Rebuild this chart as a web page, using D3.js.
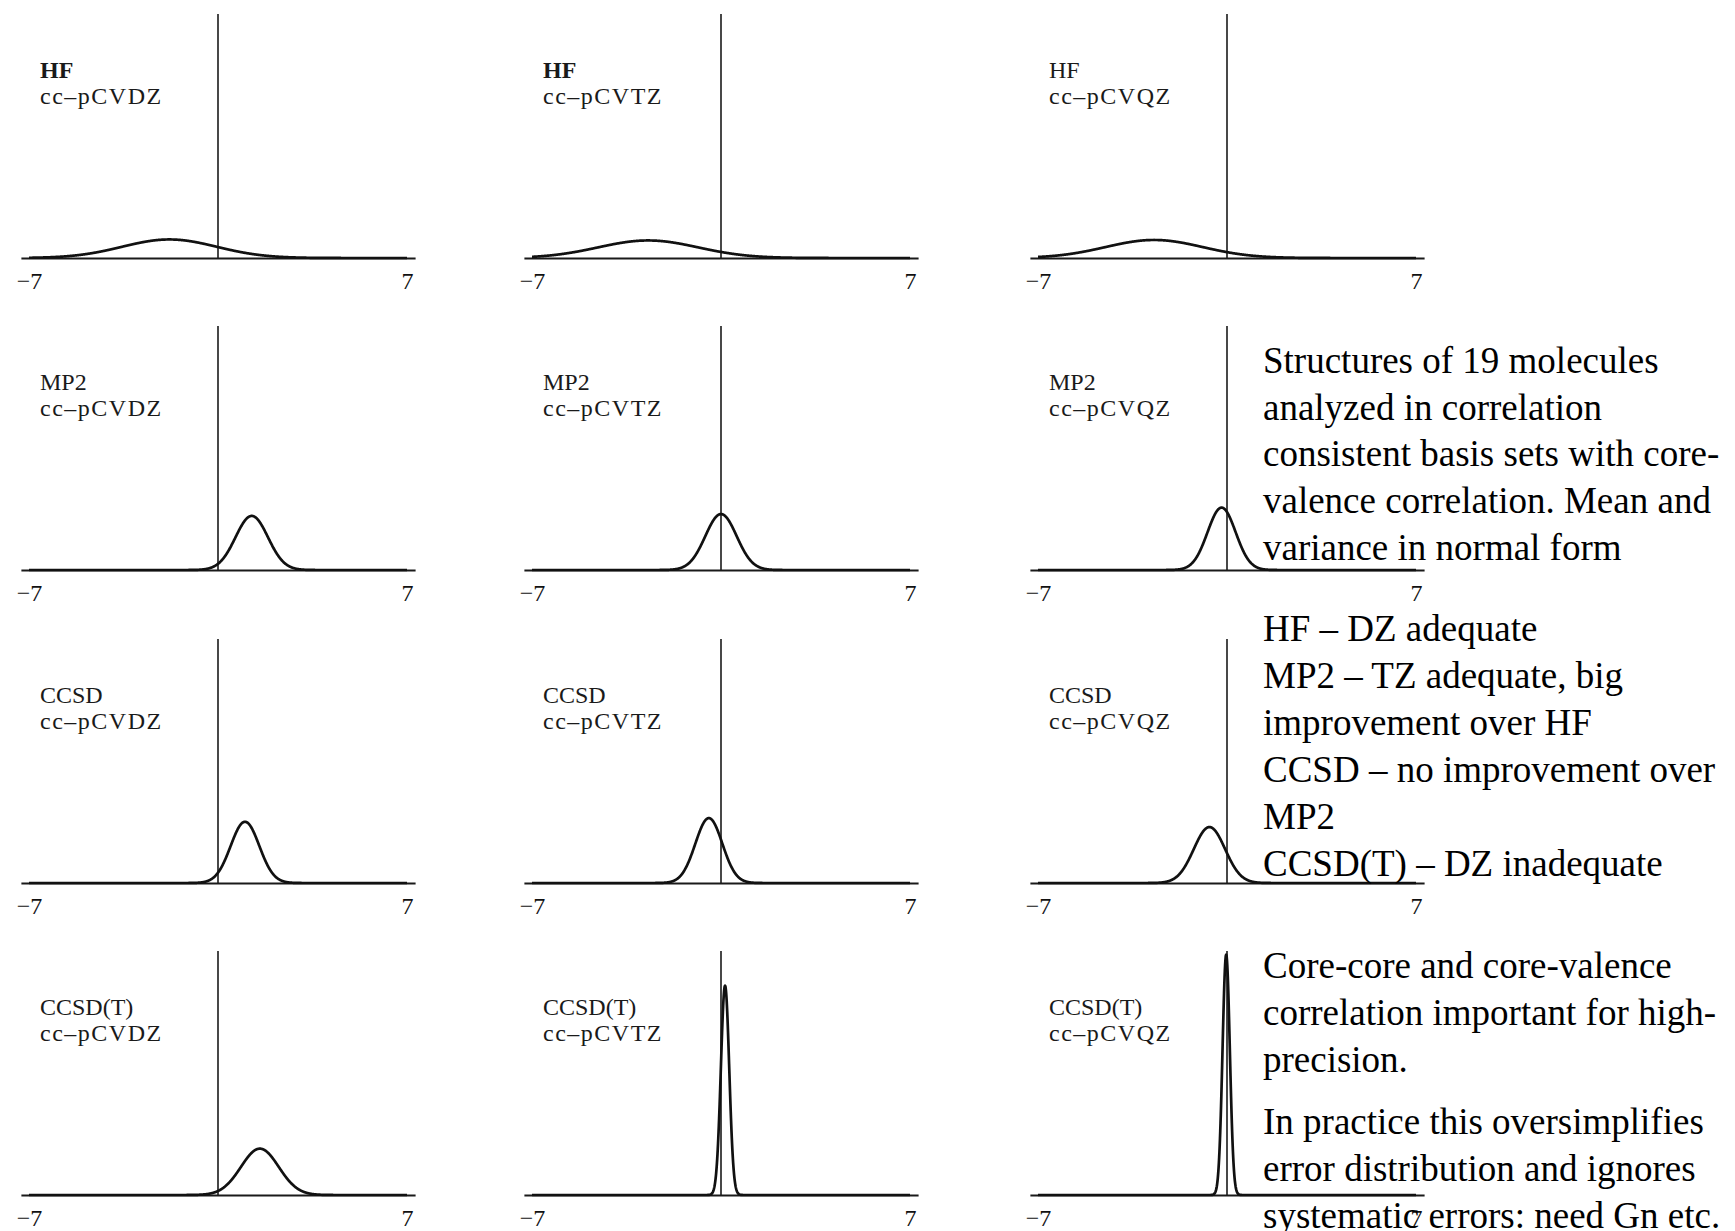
<!DOCTYPE html>
<html>
<head>
<meta charset="utf-8">
<script src="https://cdn.jsdelivr.net/npm/d3@7"></script>
<style>
  html, body { margin: 0; padding: 0; background: #fff; }
  svg { display: block; }
</style>
</head>
<body>
<svg id="chart" width="1735" height="1231"></svg>
<script>
// ---------------- data ----------------
const methods = ["HF", "MP2", "CCSD", "CCSD(T)"];
const basisSets = ["cc–pCVDZ", "cc–pCVTZ", "cc–pCVQZ"];
// mean error of the normal distribution, per method (rows) and basis set (columns)
const meansHF     = [-1.8, -2.7, -2.7];
const meansMP2    = [1.25, 0.0, -0.2];
const meansCCSD   = [1.0, -0.45, -0.65];
const meansCCSDT  = [1.55, 0.15, -0.03];
// standard deviation of the normal distribution
const sdsHF       = [1.75, 1.85, 1.8];
const sdsMP2      = [0.6, 0.58, 0.52];
const sdsCCSD     = [0.53, 0.5, 0.58];
const sdsCCSDT    = [0.7, 0.155, 0.135];
const xTickValues = [-7, 7];
const xTickLabels = ["−7", "7"];
const boldLabels  = [[true, true, false], [false, false, false], [false, false, false], [false, false, false]];

const notes1 = ["Structures of 19 molecules", "analyzed in correlation", "consistent basis sets with core-", "valence correlation. Mean and", "variance in normal form"];
const notes2 = ["HF – DZ adequate", "MP2 – TZ adequate, big", "improvement over HF", "CCSD – no improvement over", "MP2", "CCSD(T) – DZ inadequate"];
const notes3a = ["Core-core and core-valence", "correlation important for high-", "precision."];
const notes3b = ["In practice this oversimplifies", "error distribution and ignores", "systematic errors: need Gn etc."];

const meansAll = [meansHF, meansMP2, meansCCSD, meansCCSDT];
const sdsAll = [sdsHF, sdsMP2, sdsCCSD, sdsCCSDT];

// ---------------- layout ----------------
const svg = d3.select("#chart");
const colCenters = [218, 721, 1227];
const rowBaselines = [258, 570, 883, 1195];
const pxPerUnit = 27;
const xExtent = 7.3;
const yMax = 3.0;
const plotHeight = 244;
const serif = "'Liberation Serif', 'Times New Roman', Times, serif";

function normalPdf(x, m, s) {
  return Math.exp(-0.5 * ((x - m) / s) ** 2) / (s * Math.sqrt(2 * Math.PI));
}

methods.forEach((method, r) => {
  basisSets.forEach((basis, c) => {
    const cx = colCenters[c];
    const by = rowBaselines[r];
    const x = d3.scaleLinear().domain([-xExtent, xExtent])
      .range([cx - xExtent * pxPerUnit, cx + xExtent * pxPerUnit]);
    const y = d3.scaleLinear().domain([0, yMax]).range([by, by - plotHeight]);
    const g = svg.append("g");

    // x axis
    const ax = g.append("g").attr("transform", `translate(0,${by})`)
      .call(d3.axisBottom(x).tickValues(xTickValues).tickSize(0).tickSizeOuter(0).tickPadding(14)
        .tickFormat((d, i) => xTickLabels[i]));
    ax.select(".domain").attr("stroke", "#1a1a1a").attr("stroke-width", 2.2);
    ax.selectAll("text").attr("font-family", serif)
      .attr("font-size", 24).attr("fill", "#111");

    // y axis (vertical line at zero)
    g.append("line")
      .attr("x1", x(0)).attr("x2", x(0))
      .attr("y1", y(0)).attr("y2", y(yMax))
      .attr("stroke", "#1a1a1a").attr("stroke-width", 1.6);

    // distribution curve
    const m = meansAll[r][c], s = sdsAll[r][c];
    const pts = d3.range(-7, 7.0001, 0.01).map(v => [v, normalPdf(v, m, s)]);
    g.append("path").datum(pts)
      .attr("fill", "none").attr("stroke", "#111").attr("stroke-width", 2.7)
      .attr("stroke-linejoin", "round")
      .attr("d", d3.line().x(d => x(d[0])).y(d => y(d[1])));

    // labels
    const lx = x(-7) + 11;
    const top = y(yMax);
    const t = g.append("text")
      .attr("font-family", serif)
      .attr("font-size", 24).attr("fill", "#1a1a1a");
    t.append("tspan").attr("x", lx).attr("y", top + 64)
      .attr("font-weight", boldLabels[r][c] ? "bold" : "normal")
      .text(method);
    t.append("tspan").attr("x", lx).attr("y", top + 90)
      .attr("letter-spacing", 1.5)
      .text(basis);
  });
});

// ---------------- notes ----------------
function block(lines, firstBaseline, lineStep) {
  const t = svg.append("text")
    .attr("font-family", serif)
    .attr("font-size", 37).attr("fill", "#000");
  lines.forEach((ln, i) => {
    t.append("tspan").attr("x", 1263).attr("y", firstBaseline + i * lineStep).text(ln);
  });
}
block(notes1, 373, 46.7);
block(notes2, 641, 47);
block(notes3a, 978, 47);
block(notes3b, 1134, 47);
</script>
</body>
</html>
